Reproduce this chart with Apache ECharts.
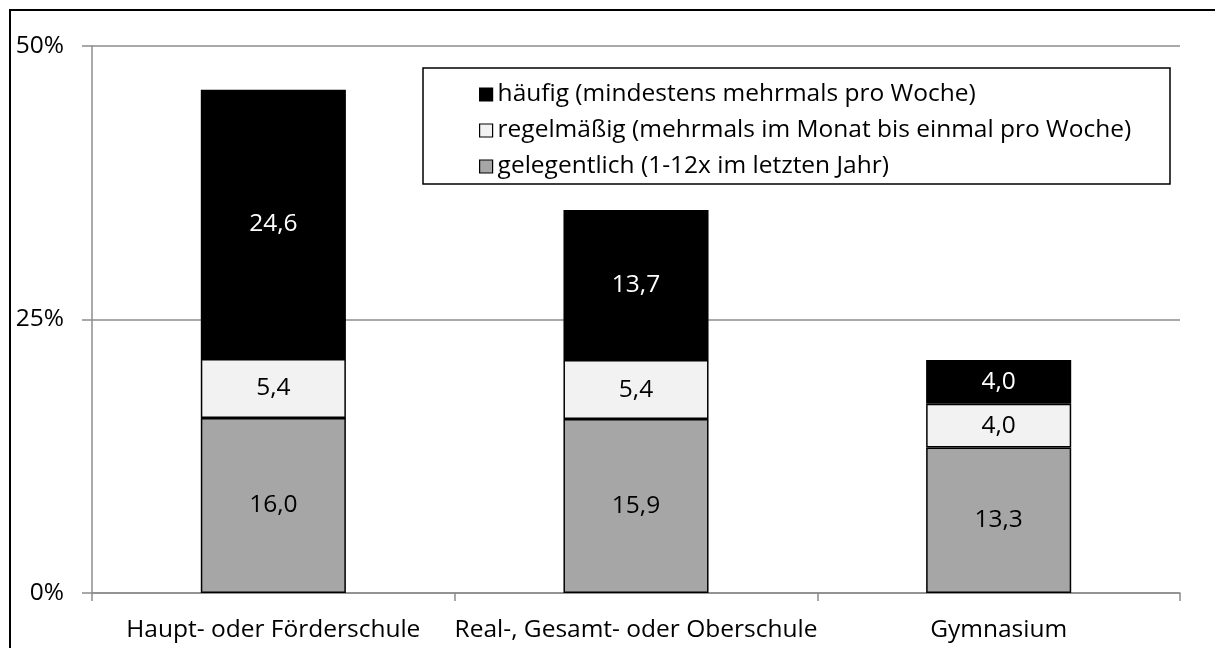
<!DOCTYPE html>
<html>
<head>
<meta charset="utf-8">
<script src="https://cdn.jsdelivr.net/npm/echarts@6/dist/echarts.min.js"></script>
<style>
  html, body { margin: 0; padding: 0; background: #fff; }
  #chart { width: 1215px; height: 648px; }
</style>
</head>
<body>
<div id="chart"></div>
<script>
const schularten = ['Haupt- oder Förderschule', 'Real-, Gesamt- oder Oberschule', 'Gymnasium'];
const gelegentlich = [16.0, 15.9, 13.3];
const regelmaessig = [5.4, 5.4, 4.0];
const haeufig = [24.6, 13.7, 4.0];
const serienNamen = [
  'häufig (mindestens mehrmals pro Woche)',
  'regelmäßig (mehrmals im Monat bis einmal pro Woche)',
  'gelegentlich (1-12x im letzten Jahr)'
];

const schrift = '"Open Sans", "Noto Sans", sans-serif';
const grau = '#8c8c8c';
const groesse = 24.5;

function label(farbe) {
  return {
    show: true,
    position: 'inside',
    color: farbe,
    fontFamily: schrift,
    fontSize: groesse,
    formatter: function (p) { return p.value.toFixed(1).replace('.', ','); }
  };
}

function serie(name, daten, farbe, textFarbe) {
  return {
    name: name,
    type: 'bar',
    stack: 'gesamt',
    barWidth: '40%',
    data: daten,
    itemStyle: { color: farbe, borderColor: '#000', borderWidth: 1.5 },
    label: label(textFarbe)
  };
}

const chart = echarts.init(document.getElementById('chart'));
chart.setOption({
  animation: false,
  backgroundColor: '#fff',
  grid: { left: 92, right: 35, top: 46, bottom: 55 },
  graphic: [
    { type: 'rect', silent: true, shape: { x: 10, y: 10, width: 1260, height: 700 },
      style: { fill: 'none', stroke: '#000', lineWidth: 2 } },
    { type: 'rect', silent: true, z: 1, shape: { x: 423, y: 68, width: 747, height: 116 },
      style: { fill: '#fff', stroke: '#000', lineWidth: 1.5 } }
  ],
  legend: {
    orient: 'vertical',
    left: 474,
    top: 77,
    z: 10,
    icon: 'rect',
    itemWidth: 13,
    itemHeight: 13,
    itemGap: 11,
    data: serienNamen,
    textStyle: { fontFamily: schrift, fontSize: groesse, color: '#000' },
    itemStyle: { borderColor: '#000', borderWidth: 1.2 }
  },
  xAxis: {
    type: 'category',
    data: schularten,
    axisLine: { lineStyle: { color: grau, width: 1.5 } },
    axisTick: { show: true, length: 8, lineStyle: { color: grau, width: 1.5 } },
    axisLabel: { fontFamily: schrift, fontSize: groesse, color: '#000', margin: 25, interval: 0, hideOverlap: false }
  },
  yAxis: {
    type: 'value',
    min: 0,
    max: 50,
    interval: 25,
    axisLine: { show: true, lineStyle: { color: grau, width: 1.5 } },
    axisTick: { show: true, length: 10, lineStyle: { color: grau, width: 1.5 } },
    splitLine: { lineStyle: { color: grau, width: 1.5 } },
    axisLabel: { fontFamily: schrift, fontSize: groesse, color: '#000', margin: 28, formatter: '{value}%' }
  },
  series: [
    serie(serienNamen[2], gelegentlich, '#a6a6a6', '#000'),
    serie(serienNamen[1], regelmaessig, '#f2f2f2', '#000'),
    serie(serienNamen[0], haeufig, '#000', '#fff')
  ]
});
</script>
</body>
</html>
